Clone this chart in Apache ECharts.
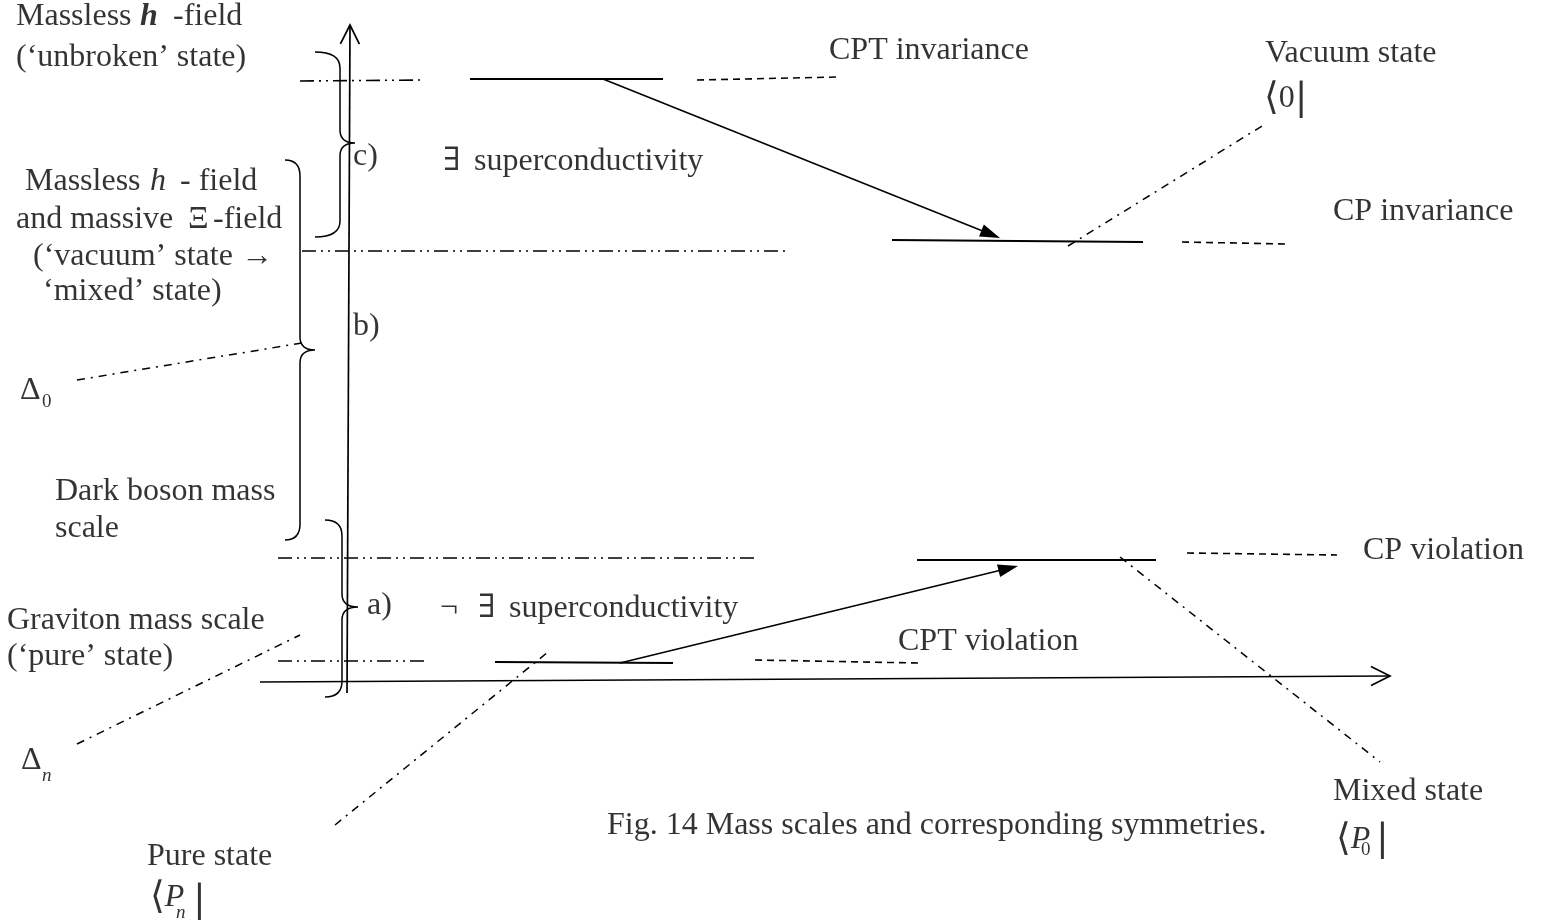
<!DOCTYPE html>
<html><head><meta charset="utf-8">
<script src="https://cdn.jsdelivr.net/npm/echarts@6/dist/echarts.min.js"></script>
<style>html,body{margin:0;padding:0;background:#fff}#c{width:1564px;height:924px}</style>
</head><body><div id="c"></div><script>
// Diagram coordinates (axis units: x 0..1564, y 0..924 downward)
const solidLevels = [[470,79,663,79],[892,240,1143,242],[917,560,1156,560],[495,662,673,663]];
const dashedLevels = [[697,80,838,77],[1182,242,1287,244],[1187,553,1337,555],[755,660,918,663]];
const dashDotDotLevels = [[300,81,425,80],[302,251,785,251],[278,558,757,558],[278,661,425,661]];
const stateLines = [[1068,246,1262,126],[335,825,548,652],[1120,557,1380,762]];
const gapLines = [[77,380,302,343],[77,744,300,635]];
const transitionArrows = [[603,79,1000,238],[620,663,1018,566]];
const axisArrows = [[347,693,350,25],[260,682,1390,676]];
// brace: [endX, topY, bottomY, stemX, tipX, tipY]
const braces = [[315,52,237,340,355,143],[285,160,540,300,315,350],[325,520,697,342,358,607]];

// labels: x (left), y (centre), rich text
const labelX = [16,140,173, 16, 829, 1265, 1264, 353, 443,474, 25,150,180, 16,188,213, 33, 43, 1333, 353, 20,42, 55,55, 1363, 367, 440,478,509, 7,7, 898, 21,42, 1333, 607, 1336,1361,1376, 147, 150,176,193];
const labelY = [17,17,17, 58, 51, 54, 99, 157, 162,162, 182,182,182, 220,220,220, 257, 292, 212, 327, 391,402, 492,529, 551, 606, 609,609,609, 621,657, 642, 761,776, 792, 826, 840,850,840, 857, 898,913,901];
const labelText = [
  '{n|Massless}','{hb|h}','{n|-field}',
  '{n|(‘unbroken’ state)}',
  '{n|CPT invariance}',
  '{n|Vacuum state}',
  '{br|⟨}{n|0}{br||}',
  '{n|c)}',
  '{n|∃}','{n|superconductivity}',
  '{n|Massless}','{i|h}','{n|- field}',
  '{n|and massive}','{n|Ξ}','{n|-field}',
  '{n|(‘vacuum’ state →}',
  '{n|‘mixed’ state)}',
  '{n|CP invariance}',
  '{n|b)}',
  '{n|Δ}','{sub|0}',
  '{n|Dark boson mass}','{n|scale}',
  '{n|CP violation}',
  '{n|a)}',
  '{n|¬}','{n|∃}','{n|superconductivity}',
  '{n|Graviton mass scale}','{n|(‘pure’ state)}',
  '{n|CPT violation}',
  '{n|Δ}','{subi|n}',
  '{n|Mixed state}',
  '{n|Fig. 14 Mass scales and corresponding symmetries.}',
  '{br|⟨}{i|P}','{sub|0}','{br||}',
  '{n|Pure state}',
  '{br|⟨}{i|P}','{subi|n}','{br||}'
];

const FONT = '"Liberation Serif", "Times New Roman", "DejaVu Serif", serif';

function segSeries(list, width, type) {
  return list.map(s => ({
    type: 'line', data: [[s[0], s[1]], [s[2], s[3]]], symbol: 'none', silent: true,
    lineStyle: { color: '#000', width: width, type: type }, z: 2
  }));
}

function braceItem(params, api) {
  const a = api.coord([api.value(0), api.value(1)]);
  const b = api.coord([api.value(0), api.value(2)]);
  const s = api.coord([api.value(3), api.value(5)]);
  const t = api.coord([api.value(4), api.value(5)]);
  const sx = s[0], r1 = 16, r2 = 13;
  const d = 'M' + a[0] + ',' + a[1] +
    ' Q' + sx + ',' + a[1] + ' ' + sx + ',' + (a[1] + r1) +
    ' L' + sx + ',' + (t[1] - r2) +
    ' Q' + sx + ',' + t[1] + ' ' + t[0] + ',' + t[1] +
    ' Q' + sx + ',' + t[1] + ' ' + sx + ',' + (t[1] + r2) +
    ' L' + sx + ',' + (b[1] - r1) +
    ' Q' + sx + ',' + b[1] + ' ' + b[0] + ',' + b[1];
  return { type: 'path', shape: { pathData: d }, style: { fill: null, stroke: '#000', lineWidth: 1.5 } };
}

function arrowItem(params, api) {
  const p1 = api.coord([api.value(0), api.value(1)]);
  const p2 = api.coord([api.value(2), api.value(3)]);
  const dx = p2[0] - p1[0], dy = p2[1] - p1[1], L = Math.hypot(dx, dy), ux = dx / L, uy = dy / L;
  const hl = 20, hw = 6.5;
  const bx = p2[0] - ux * hl, by = p2[1] - uy * hl;
  return { type: 'group', children: [
    { type: 'line', shape: { x1: p1[0], y1: p1[1], x2: bx + ux * 2, y2: by + uy * 2 }, style: { stroke: '#000', lineWidth: 1.5 } },
    { type: 'polygon', shape: { points: [[p2[0], p2[1]], [bx - uy * hw, by + ux * hw], [bx + uy * hw, by - ux * hw]] }, style: { fill: '#000' } }
  ]};
}

function axisItem(params, api) {
  const p1 = api.coord([api.value(0), api.value(1)]);
  const p2 = api.coord([api.value(2), api.value(3)]);
  const dx = p2[0] - p1[0], dy = p2[1] - p1[1], L = Math.hypot(dx, dy), ux = dx / L, uy = dy / L;
  const hl = 19, hw = 9.5;
  const bx = p2[0] - ux * hl, by = p2[1] - uy * hl;
  return { type: 'group', children: [
    { type: 'line', shape: { x1: p1[0], y1: p1[1], x2: p2[0], y2: p2[1] }, style: { stroke: '#000', lineWidth: 1.7 } },
    { type: 'polyline', shape: { points: [[bx - uy * hw, by + ux * hw], [p2[0], p2[1]], [bx + uy * hw, by - ux * hw]] }, style: { stroke: '#000', lineWidth: 1.7, fill: null } }
  ]};
}

const TXT = { color: '#000', textBorderWidth: 0, textShadowBlur: 0 };
const chart = echarts.init(document.getElementById('c'), null, { renderer: 'canvas' });
const series = [].concat(
  segSeries(solidLevels, 2, 'solid'),
  segSeries(dashedLevels, 1.6, [7, 5]),
  segSeries(dashDotDotLevels, 1.6, [14, 5, 2, 5, 2, 5]),
  segSeries(stateLines, 1.5, [8, 6, 2, 6]),
  segSeries(gapLines, 1.5, [8, 6, 2, 6]),
  [
    { type: 'custom', renderItem: braceItem, data: braces, silent: true, z: 3 },
    { type: 'custom', renderItem: arrowItem, data: transitionArrows, silent: true, z: 3 },
    { type: 'custom', renderItem: axisItem, data: axisArrows, silent: true, z: 3 },
    {
      type: 'scatter', symbolSize: 0, silent: true, z: 5,
      itemStyle: { color: '#000' },
      data: labelX.map((x, i) => [x, labelY[i], labelText[i]]),
      label: Object.assign({
        show: true, position: [0, 0], align: 'left', verticalAlign: 'middle',
        formatter: p => p.data[2], fontFamily: FONT, fontSize: 32,
        rich: {
          n: Object.assign({ fontFamily: FONT, fontSize: 32 }, TXT),
          i: Object.assign({ fontFamily: FONT, fontSize: 32, fontStyle: 'italic' }, TXT),
          hb: Object.assign({ fontFamily: FONT, fontSize: 32, fontStyle: 'italic', fontWeight: 'bold' }, TXT),
          sub: Object.assign({ fontFamily: FONT, fontSize: 19 }, TXT),
          subi: Object.assign({ fontFamily: FONT, fontSize: 19, fontStyle: 'italic' }, TXT),
          br: Object.assign({ fontFamily: '"DejaVu Serif", serif', fontSize: 38 }, TXT)
        }
      }, TXT)
    }
  ]
);

chart.setOption({
  animation: false,
  backgroundColor: '#fff',
  grid: { left: 0, right: 0, top: 0, bottom: 0 },
  xAxis: { type: 'value', min: 0, max: 1564, show: false },
  yAxis: { type: 'value', min: 0, max: 924, inverse: true, show: false },
  series: series
});
</script></body></html>
